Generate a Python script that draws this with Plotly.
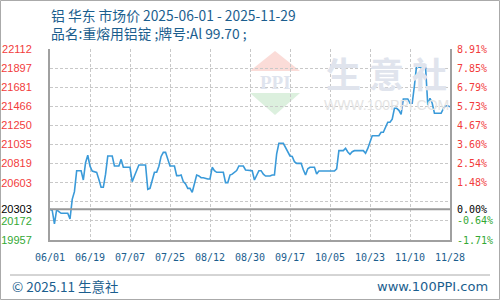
import plotly.graph_objects as go

# ---- data ----
dates = ["2025-06-01","2025-06-02","2025-06-03","2025-06-04","2025-06-05","2025-06-06","2025-06-09","2025-06-10",
         "2025-06-11","2025-06-12","2025-06-13","2025-06-15","2025-06-16","2025-06-17","2025-06-18","2025-06-19",
         "2025-06-20","2025-06-22","2025-06-23","2025-06-24","2025-06-25","2025-06-26","2025-06-27","2025-06-29",
         "2025-06-30","2025-07-02","2025-07-03","2025-07-04","2025-07-07","2025-07-08","2025-07-09","2025-07-10",
         "2025-07-11","2025-07-14","2025-07-15","2025-07-16","2025-07-17","2025-07-18","2025-07-19","2025-07-20",
         "2025-07-21","2025-07-22","2025-07-23","2025-07-24","2025-07-25","2025-07-27","2025-07-28","2025-07-29",
         "2025-07-30","2025-07-31","2025-08-01","2025-08-02","2025-08-03","2025-08-04","2025-08-05","2025-08-06",
         "2025-08-07","2025-08-08","2025-08-09","2025-08-10","2025-08-11","2025-08-12","2025-08-13","2025-08-14",
         "2025-08-15","2025-08-18","2025-08-19","2025-08-20","2025-08-21","2025-08-22","2025-08-23","2025-08-24",
         "2025-08-25","2025-08-27","2025-08-28","2025-08-29","2025-08-30","2025-08-31","2025-09-01","2025-09-02",
         "2025-09-03","2025-09-04","2025-09-05","2025-09-06","2025-09-08","2025-09-09","2025-09-10","2025-09-11",
         "2025-09-12","2025-09-14","2025-09-15","2025-09-16","2025-09-17","2025-09-18","2025-09-19","2025-09-20",
         "2025-09-22","2025-09-23","2025-09-24","2025-09-25","2025-09-26","2025-09-28","2025-09-29","2025-09-30",
         "2025-10-07","2025-10-08","2025-10-09","2025-10-11","2025-10-12","2025-10-13","2025-10-14","2025-10-15",
         "2025-10-16","2025-10-20","2025-10-21","2025-10-22","2025-10-23","2025-10-24","2025-10-27","2025-10-28",
         "2025-10-29","2025-10-30","2025-10-31","2025-11-01","2025-11-02","2025-11-03","2025-11-04","2025-11-05",
         "2025-11-06","2025-11-07","2025-11-09","2025-11-10","2025-11-11","2025-11-12","2025-11-13","2025-11-14",
         "2025-11-17","2025-11-18","2025-11-19","2025-11-20","2025-11-21","2025-11-24","2025-11-25","2025-11-26",
         "2025-11-27","2025-11-28"]
prices = [20303,20290,20140,20300,20276,20258,20258,20194,
          20416,20502,20739,20739,20634,20829,20913,20790,
          20735,20720,20640,20552,20552,20700,20905,20905,
          20792,20792,20867,20777,20777,20615,20679,20740,
          20803,20803,20529,20540,20630,20721,20721,20790,
          20900,20946,20946,20860,20792,20792,20683,20683,
          20690,20615,20590,20540,20540,20495,20600,20690,
          20680,20660,20660,20650,20645,20645,20777,20740,
          20721,20721,20604,20604,20690,20700,20721,20740,
          20792,20792,20747,20747,20739,20739,20634,20680,
          20739,20739,20700,20679,20679,20690,20690,20930,
          21048,21048,21000,20950,20905,20900,20840,20822,
          20822,20750,20690,20760,20777,20777,20702,20735,
          20735,20760,20965,20965,20992,20950,20924,20953,
          20965,20965,20935,20990,21074,21134,21134,21172,
          21172,21230,21285,21285,21320,21443,21443,21420,
          21375,21548,21548,21500,21500,21700,21932,21906,
          21906,21480,21556,21500,21387,21387,21440,21472,
          21472,21460]

base_price = 20303
y_ticks = [19957, 20172, 20303, 20388, 20603, 20819, 21035, 21250, 21466, 21681, 21897, 22112]
y_labels = ["19957", "20172", "20303", "", "20603", "20819", "21035", "21250", "21466", "21681", "21897", "22112"]
pct_labels = ["-1.71%", "-0.64%", "0.00%", "", "1.48%", "2.54%", "3.60%", "4.67%", "5.73%", "6.79%", "7.85%", "8.91%"]
x_ticks = ["2025-06-01", "2025-06-19", "2025-07-07", "2025-07-25", "2025-08-12", "2025-08-30",
           "2025-09-17", "2025-10-05", "2025-10-23", "2025-11-10", "2025-11-28"]
x_labels = ["06/01", "06/19", "07/07", "07/25", "08/12", "08/30", "09/17", "10/05", "10/23", "11/10", "11/28"]

RED, GREEN, BLACK = "#f23c3c", "#33a833", "#000000"
BLUE_TXT = "#1b5e8e"

def color_for(v):
    if v > base_price:
        return RED
    if v < base_price:
        return GREEN
    return BLACK

left_text = [f'<span style="color:{color_for(v)}">{t}</span>' for v, t in zip(y_ticks, y_labels)]
right_text = [f'<span style="color:{color_for(v)}">{t}</span>' for v, t in zip(y_ticks, pct_labels)]

fig = go.Figure()
fig.add_trace(go.Scatter(x=dates, y=prices, mode="lines",
                         line=dict(color="#3a9ad9", width=1.6), hoverinfo="x+y", showlegend=False))
fig.add_trace(go.Scatter(x=dates, y=prices, mode="lines", yaxis="y2",
                         line=dict(color="rgba(0,0,0,0)", width=0), hoverinfo="skip", showlegend=False))

grid = dict(showgrid=True, gridcolor="#c8c8c8", gridwidth=1, griddash="3px,2px")

fig.update_layout(
    width=500, height=300,
    margin=dict(l=50, r=50, t=49, b=60, autoexpand=False),
    paper_bgcolor="white", plot_bgcolor="white",
    xaxis=dict(type="date", range=["2025-06-01", "2025-11-28"], tickvals=x_ticks, ticktext=x_labels,
               tickfont=dict(family="DejaVu Sans Mono", size=10, color=BLUE_TXT), tickangle=0,
               ticks="outside", ticklen=7, tickcolor="rgba(0,0,0,0)", automargin=False,
               showline=True, linecolor="#a0a0a0", linewidth=2, zeroline=False, **grid),
    yaxis=dict(range=[19957, 22112], tickvals=y_ticks, ticktext=left_text,
               tickfont=dict(family="Liberation Sans", size=11), automargin=False,
               ticks="outside", ticklen=14, tickcolor="rgba(0,0,0,0)",
               showline=True, linecolor="#a0a0a0", linewidth=2, zeroline=False, **grid),
    yaxis2=dict(range=[19957, 22112], tickvals=y_ticks, ticktext=right_text, overlaying="y", side="right",
                tickfont=dict(family="DejaVu Sans Mono", size=10), automargin=False,
                ticks="outside", ticklen=3, tickcolor="rgba(0,0,0,0)",
                showline=True, linecolor="#a0a0a0", linewidth=2, showgrid=False, zeroline=False),
)

# base line (0.00%)
fig.add_shape(type="line", xref="paper", yref="y", x0=0, x1=1, y0=base_price, y1=base_price,
              line=dict(color="#999999", width=2))

# watermark logo
def px(x):
    return (x - 50) / 400.0
def py(y):
    return (240 - y) / 191.0

fig.add_shape(type="path", xref="paper", yref="paper", layer="below",
              path=f"M {px(275)} {py(51)} L {px(250)} {py(71)} L {px(300)} {py(71)} Z",
              fillcolor="#fbdcd8", line=dict(width=0))
fig.add_shape(type="path", xref="paper", yref="paper", layer="below",
              path=f"M {px(250)} {py(93)} L {px(300)} {py(93)} L {px(275)} {py(115)} Z",
              fillcolor="#dcf0de", line=dict(width=0))
fig.add_annotation(x=px(275), y=py(82), xref="paper", yref="paper", text="<b>PPI</b>", showarrow=False,
                   font=dict(family="Liberation Serif", size=19, color="#dfe4ee"), xanchor="center", yanchor="middle")
fig.add_annotation(x=px(386), y=py(72), xref="paper", yref="paper", text="<b>生 意 社</b>", showarrow=False,
                   font=dict(family="Noto Sans CJK SC", size=35, color="#e0e4ed"), xanchor="center", yanchor="middle")
fig.add_annotation(x=px(386), y=py(105), xref="paper", yref="paper", text="WWW.100PPI.COM", showarrow=False,
                   font=dict(family="Liberation Sans", size=14, color="#e4e4e4"), xanchor="center", yanchor="middle")

# titles
fig.add_annotation(x=px(49), y=py(15), xref="paper", yref="paper", text="铝 华东 市场价 2025-06-01 - 2025-11-29",
                   showarrow=False, xanchor="left", yanchor="middle",
                   font=dict(family="Noto Sans CJK SC", size=13.8, color=BLUE_TXT))
fig.add_annotation(x=px(49), y=py(33), xref="paper", yref="paper", text="品名:重熔用铝锭 ;牌号:Al 99.70 ;",
                   showarrow=False, xanchor="left", yanchor="middle",
                   font=dict(family="Noto Sans CJK SC", size=13.8, color=BLUE_TXT))

# footer
fig.add_shape(type="line", xref="paper", yref="paper", x0=px(10), x1=px(490), y0=py(275), y1=py(275),
              line=dict(color="#aaaaaa", width=1))
fig.add_annotation(x=px(10), y=py(286), xref="paper", yref="paper", text="© 2025.11 生意社",
                   showarrow=False, xanchor="left", yanchor="middle",
                   font=dict(family="Noto Sans CJK SC", size=13.5, color=BLUE_TXT))
fig.add_annotation(x=px(490), y=py(286), xref="paper", yref="paper", text="www.100PPI.com",
                   showarrow=False, xanchor="right", yanchor="middle",
                   font=dict(family="DejaVu Sans", size=13, color=BLUE_TXT))

# outer border
fig.add_shape(type="rect", xref="paper", yref="paper", x0=px(0.5), x1=px(499.5), y0=py(299.5), y1=py(0.5),
              line=dict(color="#aaaaaa", width=1))

fig.write_html("out.html")
